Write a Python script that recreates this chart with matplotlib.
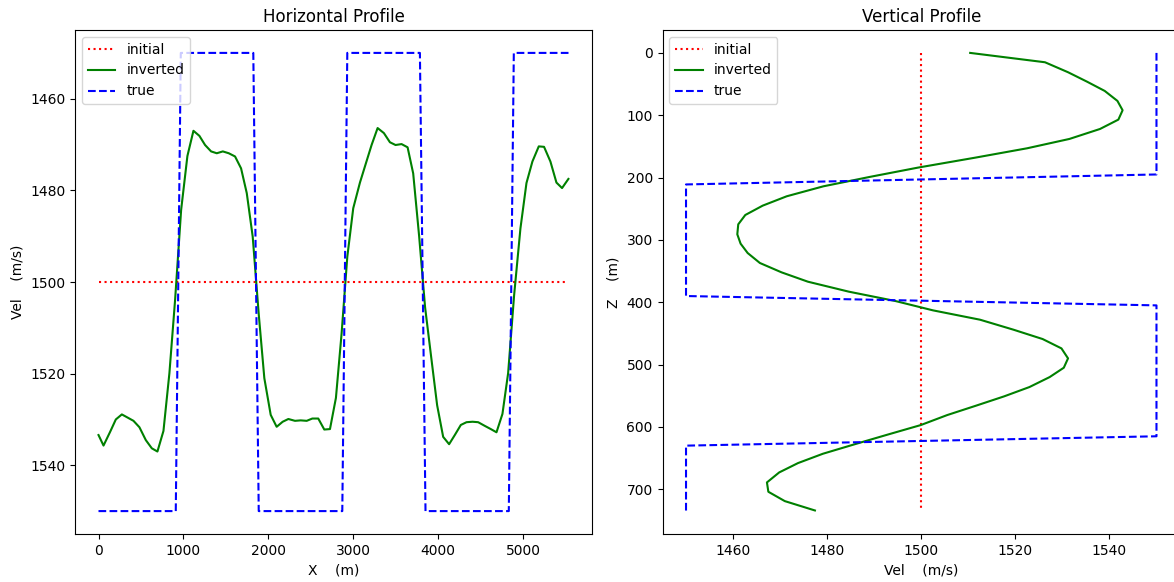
import matplotlib
matplotlib.use("Agg")
import matplotlib.pyplot as plt

# Horizontal profile data ------------------------------------------------
h_init_x = [0, 5535]
h_init_v = [1500, 1500]

h_true_x = [0, 910, 969, 1823, 1887, 2871, 2930, 3785, 3851, 4832, 4891, 5535]
h_true_v = [1550, 1550, 1450, 1450, 1550, 1550, 1450, 1450, 1550, 1550, 1450, 1450]

h_inv_x = [0, 59, 137, 204, 275, 334, 412, 482, 557, 628, 694, 765, 835, 902,
           973, 1047, 1118, 1188, 1255, 1326, 1393, 1464, 1534, 1608, 1679,
           1746, 1816, 1886, 1953, 2028, 2098, 2169, 2236, 2314, 2381, 2452,
           2518, 2588, 2659, 2726, 2796, 2863, 2930, 3000, 3079, 3149, 3216,
           3287, 3361, 3432, 3498, 3569, 3640, 3706, 3776, 3846, 3922, 3988,
           4059, 4129, 4196, 4267, 4334, 4405, 4471, 4549, 4620, 4687, 4757,
           4824, 4894, 4969, 5040, 5110, 5185, 5247, 5322, 5393, 5459, 5534]
h_inv_v = [1533.4, 1535.7, 1532.7, 1530.0, 1528.9, 1529.5, 1530.3, 1531.7,
           1534.5, 1536.3, 1537.0, 1532.5, 1519.9, 1503.9, 1484.3, 1472.5,
           1467.0, 1468.1, 1470.1, 1471.5, 1471.9, 1471.5, 1471.9, 1472.6,
           1475.2, 1480.6, 1490.1, 1506.8, 1521.0, 1529.0, 1531.6, 1530.5,
           1529.9, 1530.3, 1530.2, 1530.3, 1529.8, 1529.8, 1532.2, 1532.1,
           1525.3, 1511.2, 1494.5, 1483.9, 1478.3, 1474.1, 1470.1, 1466.4,
           1467.5, 1469.5, 1470.1, 1469.9, 1470.6, 1476.3, 1490.0, 1505.5,
           1517.0, 1526.9, 1533.8, 1535.4, 1533.4, 1531.2, 1530.6, 1530.5,
           1530.6, 1531.4, 1532.1, 1532.8, 1528.8, 1519.9, 1503.0, 1488.3,
           1478.4, 1473.7, 1470.4, 1470.5, 1473.7, 1478.3, 1479.5, 1477.5]

# Vertical profile data --------------------------------------------------
v_init_v = [1500, 1500]
v_init_z = [0, 735]

v_true_v = [1550, 1550, 1450, 1450, 1550, 1550, 1450, 1450]
v_true_z = [0, 195, 211, 390, 405, 615, 630, 735]

v_inv_z = [0, 15, 31, 46, 61, 77, 92, 107, 122, 138, 153, 168, 184, 199,
           214, 230, 245, 260, 275, 291, 306, 321, 337, 352, 367, 383, 398,
           413, 428, 444, 459, 474, 490, 505, 520, 536, 551, 566, 581, 597,
           612, 627, 643, 658, 673, 689, 704, 719, 734]
v_inv_v = [1510.4, 1526.3, 1531.2, 1535.2, 1539.0, 1541.7, 1542.8, 1541.9,
           1538.0, 1531.5, 1522.5, 1511.5, 1499.3, 1489.0, 1479.2, 1471.4,
           1466.3, 1462.6, 1461.1, 1460.9, 1461.6, 1463.1, 1465.7, 1470.3,
           1475.9, 1484.6, 1494.5, 1502.5, 1512.5, 1519.6, 1525.8, 1529.8,
           1531.2, 1530.3, 1527.3, 1523.0, 1517.6, 1511.6, 1505.5, 1499.9,
           1493.0, 1486.2, 1479.1, 1473.8, 1469.8, 1467.2, 1467.5, 1471.0,
           1477.4]

W, H = 1174, 582
fig = plt.figure(figsize=(W / 100, H / 100), dpi=100)

# axes placed in pixels, the right one runs slightly off the canvas
ax1 = fig.add_axes([75 / W, 48 / H, 517 / W, 504 / H])
ax2 = fig.add_axes([662.5 / W, 48 / H, 517.5 / W, 504 / H])

ax1.plot(h_init_x, h_init_v, 'r:', label='initial')
ax1.plot(h_inv_x, h_inv_v, 'g-', label='inverted')
ax1.plot(h_true_x, h_true_v, 'b--', label='true')
ax1.invert_yaxis()
ax1.set_title('Horizontal Profile')
ax1.set_xlabel('X    (m)')
ax1.set_ylabel('Vel    (m/s)')
ax1.legend(loc='upper left')

ax2.plot(v_init_v, v_init_z, 'r:', label='initial')
ax2.plot(v_inv_v, v_inv_z, 'g-', label='inverted')
ax2.plot(v_true_v, v_true_z, 'b--', label='true')
ax2.invert_yaxis()
ax2.set_title('Vertical Profile')
ax2.set_xlabel('Vel    (m/s)')
ax2.set_ylabel('Z    (m)')
ax2.legend(loc='upper left')

fig.savefig('out.png', dpi=100)
